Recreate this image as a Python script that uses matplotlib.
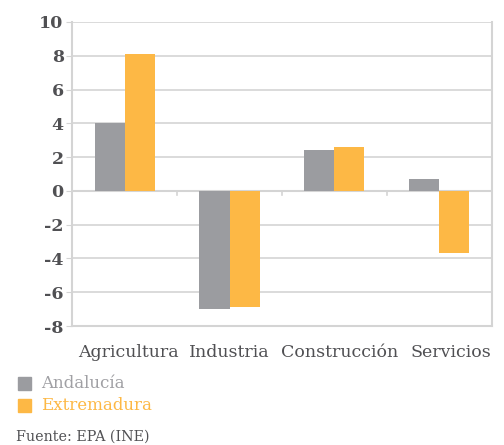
import numpy as np
import matplotlib
matplotlib.use("Agg")
import matplotlib.pyplot as plt
from matplotlib.patches import Rectangle

sectores = ["Agricultura", "Industria", "Construcción", "Servicios"]
andalucia = [4.0, -7.0, 2.4, 0.7]
extremadura = [8.1, -6.9, 2.6, -3.7]
yticks = [-8, -6, -4, -2, 0, 2, 4, 6, 8, 10]

GRIS = "#9b9ca0"
NARANJA = "#fdb845"
TEXTO = "#505053"
REJILLA = "#d4d4d4"

plt.rcParams["font.family"] = ["DejaVu Serif"]

fig = plt.figure(figsize=(5.04, 4.45), dpi=100)
ax = fig.add_axes([0.143, 0.2674, 0.833, 0.6832])

x = np.arange(len(sectores))
w = 0.286
ax.bar(x - w / 2, andalucia, w, color=GRIS, zorder=3)
ax.bar(x + w / 2, extremadura, w, color=NARANJA, zorder=3)

ax.set_xlim(-0.5, len(sectores) - 0.5)
ax.set_ylim(-8, 10)
ax.set_yticks(yticks)
ax.set_yticklabels([str(v) for v in yticks], fontsize=12.5, fontweight="bold", color=TEXTO)
ax.yaxis.grid(True, color=REJILLA, linewidth=1.2, zorder=0)
ax.tick_params(axis="y", length=4, color=REJILLA, pad=2)

# linea del cero con marcas entre categorias
ax.axhline(0, color=REJILLA, linewidth=1.5, zorder=2)
for b in x[:-1] + 0.5:
    ax.plot([b, b], [0, -0.25], color=REJILLA, linewidth=1.2, zorder=2, clip_on=False)

ax.set_xticks(x)
ax.set_xticklabels([])
ax.tick_params(axis="x", length=0)
# etiquetas algo desplazadas como en el original
desplaz = [0.035, 0.0, 0.05, 0.11]
for i, s in enumerate(sectores):
    ax.text(i + desplaz[i], -9.05, s, ha="center", va="top", fontsize=12.5, color=TEXTO)

for side in ["left", "right", "bottom", "top"]:
    ax.spines[side].set_color(REJILLA)
    ax.spines[side].set_linewidth(1.5)
ax.spines["top"].set_visible(False)

# leyenda
fig.patches.append(Rectangle((18 / 504, 1 - 390 / 445), 13 / 504, 13 / 445,
                             transform=fig.transFigure, color=GRIS))
fig.patches.append(Rectangle((18 / 504, 1 - 412 / 445), 13 / 504, 13 / 445,
                             transform=fig.transFigure, color=NARANJA))
fig.text(41 / 504, 1 - 383 / 445, "Andalucía", fontsize=12, color="#a0a0a4", va="center")
fig.text(41 / 504, 1 - 405 / 445, "Extremadura", fontsize=12, color=NARANJA, va="center")
fig.text(16 / 504, 1 - 437 / 445, "Fuente: EPA (INE)", fontsize=10.3, color=TEXTO, va="center")

fig.savefig("out.png", dpi=100)
